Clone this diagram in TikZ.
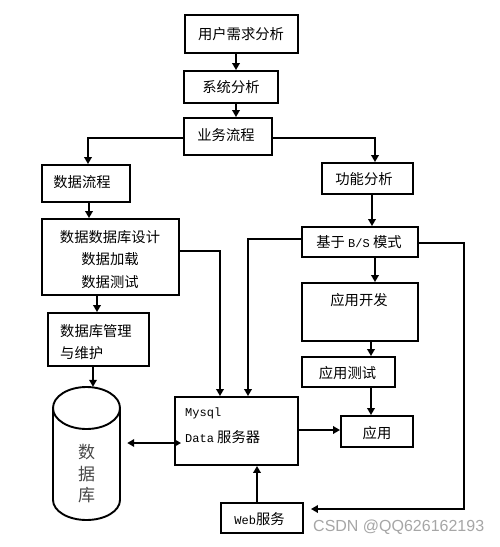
\documentclass[tikz,border=0pt]{standalone}
\usepackage{fontspec}
\setmainfont{Noto Sans CJK SC}
\newfontfamily\monof{Liberation Mono}
\newfontfamily\wmfont{Liberation Sans}
\usetikzlibrary{arrows.meta}
\begin{document}
\begin{tikzpicture}[x=1pt,y=-1pt,
  box/.style={draw, line width=1.9pt, inner sep=0pt},
  txt/.style={inner sep=0pt, font=\fontsize{14.3}{17}\selectfont},
  mtxt/.style={inner sep=0pt, font=\fontsize{12}{14}\selectfont},
  conn/.style={line width=1.9pt, -{Triangle[length=7pt,width=7.5pt]}},
  dconn/.style={line width=1.9pt, {Triangle[length=7pt,width=7.5pt]}-{Triangle[length=7pt,width=7.5pt]}},
  plain/.style={line width=1.9pt}]
\useasboundingbox (0,0) rectangle (499,547);
\fill[white] (0,0) rectangle (499,547);

% boxes
\node[box, minimum width=113pt, minimum height=38pt] (req) at (241.5,34) {};
\node[txt] (reqt) at (241,34) {用户需求分析};
\node[box, minimum width=94pt, minimum height=32pt] (sys) at (231,87) {};
\node[txt] (syst) at (231,87) {系统分析};
\node[box, minimum width=88pt, minimum height=37pt] (flow) at (228,136.5) {};
\node[txt] (flowt) at (226,135) {业务流程};
\node[box, minimum width=88pt, minimum height=37pt] (dflow) at (86,183.5) {};
\node[txt] (dflowt) at (82,182) {数据流程};
\node[box, minimum width=91pt, minimum height=31pt] (func) at (367.5,178.5) {};
\node[txt] (funct) at (364,179) {功能分析};
\node[box, minimum width=137pt, minimum height=76pt] (design) at (110.5,257) {};
\node[txt, align=center, font=\fontsize{14.3}{22.5}\selectfont] (designt) at (110,259.5) {数据数据库设计\\数据加载\\数据测试};
\node[box, minimum width=101pt, minimum height=53pt] (mgmt) at (98.5,339.5) {};
\node[txt, anchor=west] (mgmt1) at (60,331) {数据库管理};
\node[txt, anchor=west] (mgmt2) at (60,353) {与维护};
\node[box, minimum width=116pt, minimum height=30pt] (bs) at (360,242) {};
\node[txt] (bst) at (359,242) {基于 {\monof\fontsize{12}{14}\selectfont B/S} 模式};
\node[box, minimum width=116pt, minimum height=58pt] (dev) at (360,312) {};
\node[txt] (devt) at (359,300) {应用开发};
\node[box, minimum width=93pt, minimum height=30pt] (test) at (348.5,372) {};
\node[txt] (testt) at (347.5,373) {应用测试};
\node[box, minimum width=72pt, minimum height=31pt] (app) at (377,431.5) {};
\node[txt] (appt) at (377,433) {应用};
\node[box, minimum width=123pt, minimum height=68pt] (mysql) at (236.5,431) {};
\node[mtxt, anchor=west] (mysql1) at (185,413) {\monof Mysql};
\node[txt, anchor=west] (mysql2) at (185,437) {{\monof\fontsize{12}{14}\selectfont Data} 服务器};
\node[box, minimum width=82pt, minimum height=30pt] (web) at (262,518) {};
\node[txt] (webt) at (259.5,519) {{\monof\fontsize{12}{14}\selectfont Web}服务};

% cylinder
\node[inner sep=0pt, minimum width=67pt, minimum height=133pt] (db) at (86.5,453.5) {};
\draw[plain] (53,408) -- (53,500) arc[start angle=180, end angle=360, x radius=33.5pt, y radius=20pt] -- (120,408);
\draw[plain] (86.5,408) ellipse [x radius=33.5pt, y radius=21pt];
\node[inner sep=0pt, align=center, text=black!72, font=\fontsize{17}{21.5}\selectfont] (dbt) at (86.5,474) {数\\据\\库};

% connectors
\draw[conn] ([xshift=-5.5pt]req.south) -- ([xshift=5pt]sys.north);
\draw[conn] ([xshift=5pt]sys.south) -- ([xshift=8pt]flow.north);
\draw[conn] ([yshift=-1.5pt]flow.west) -| ([xshift=2pt]dflow.north);
\draw[conn] ([yshift=-1.5pt]flow.east) -| ([xshift=7.5pt]func.north);
\draw[conn] ([xshift=3pt]dflow.south) -- ([xshift=3pt]dflow.south |- design.north);
\draw[conn] ([xshift=-13.5pt]design.south) -- ([xshift=-13.5pt]design.south |- mgmt.north);
\draw[conn] ([xshift=-5.5pt]mgmt.south) -- ([xshift=-5.5pt]mgmt.south |- db.north);
\draw[conn] ([yshift=6pt]design.east) -| ([xshift=-16.5pt]mysql.north);
\draw[conn] ([yshift=3pt]bs.west) -| ([xshift=11.5pt]mysql.north);
\draw[conn] ([xshift=4.5pt]func.south) -- ([xshift=12pt]bs.north);
\draw[conn] ([xshift=15pt]bs.south) -- ([xshift=15pt]dev.north);
\draw[conn] ([xshift=11pt]dev.south) -- ([xshift=22.5pt]test.north);
\draw[conn] ([xshift=22.5pt]test.south) -- ([xshift=-6pt]app.north);
\draw[conn] ([yshift=1pt]mysql.east) -- ([yshift=1pt]mysql.east -| app.west);
\draw[conn] ([yshift=-1pt]bs.east) -- ++(45,0) |- ([xshift=7pt,yshift=9pt]web.east);
\draw[conn] ([xshift=-5pt]web.north) -- ([xshift=-5pt]web.north |- mysql.south);
\draw[dconn] ([xshift=7pt,yshift=10.5pt]db.east) -- ([xshift=7pt,yshift=10.5pt]db.east -| mysql.west);

% watermark
\node[inner sep=0pt, anchor=west, text=black!35, font=\wmfont\fontsize{16}{19}\selectfont] (wm) at (313,527) {CSDN @QQ626162193};
\end{tikzpicture}
\end{document}
